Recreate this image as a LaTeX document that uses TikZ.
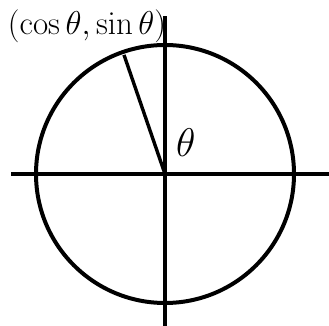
\documentclass[tikz,border=0pt]{standalone}
\usepackage{fix-cm}
\usepackage{amsmath}
\usepackage{tikz}

\begin{document}
\begin{tikzpicture}[x=1pt, y=1pt, line width=4pt]
		\useasboundingbox (0, 0) rectangle (329, 326);
		\tikzset{lbl/.style={font=\fontsize{33}{38}\selectfont, inner sep=0pt}}

		\coordinate (O) at (165, 152);
		\coordinate (P) at ([shift={(109:126)}]O);
		\coordinate (W) at (11, 152);
		\coordinate (E) at (329, 152);
		\coordinate (S) at (165, 0);
		\coordinate (N) at (165, 310);

		\draw (W) -- (E);
		\draw (S) -- (N);
		\draw (O) circle (129);
		\draw[line width=3.4pt] (O) -- (P);

		\node[lbl, anchor=base west] (pt) at (6, 291) {$(\cos\theta, \sin\theta)$};
		\node[lbl, font=\fontsize{40}{44}\selectfont, anchor=base west] (ang) at (174, 169) {$\theta$};
	\end{tikzpicture}
\end{document}
